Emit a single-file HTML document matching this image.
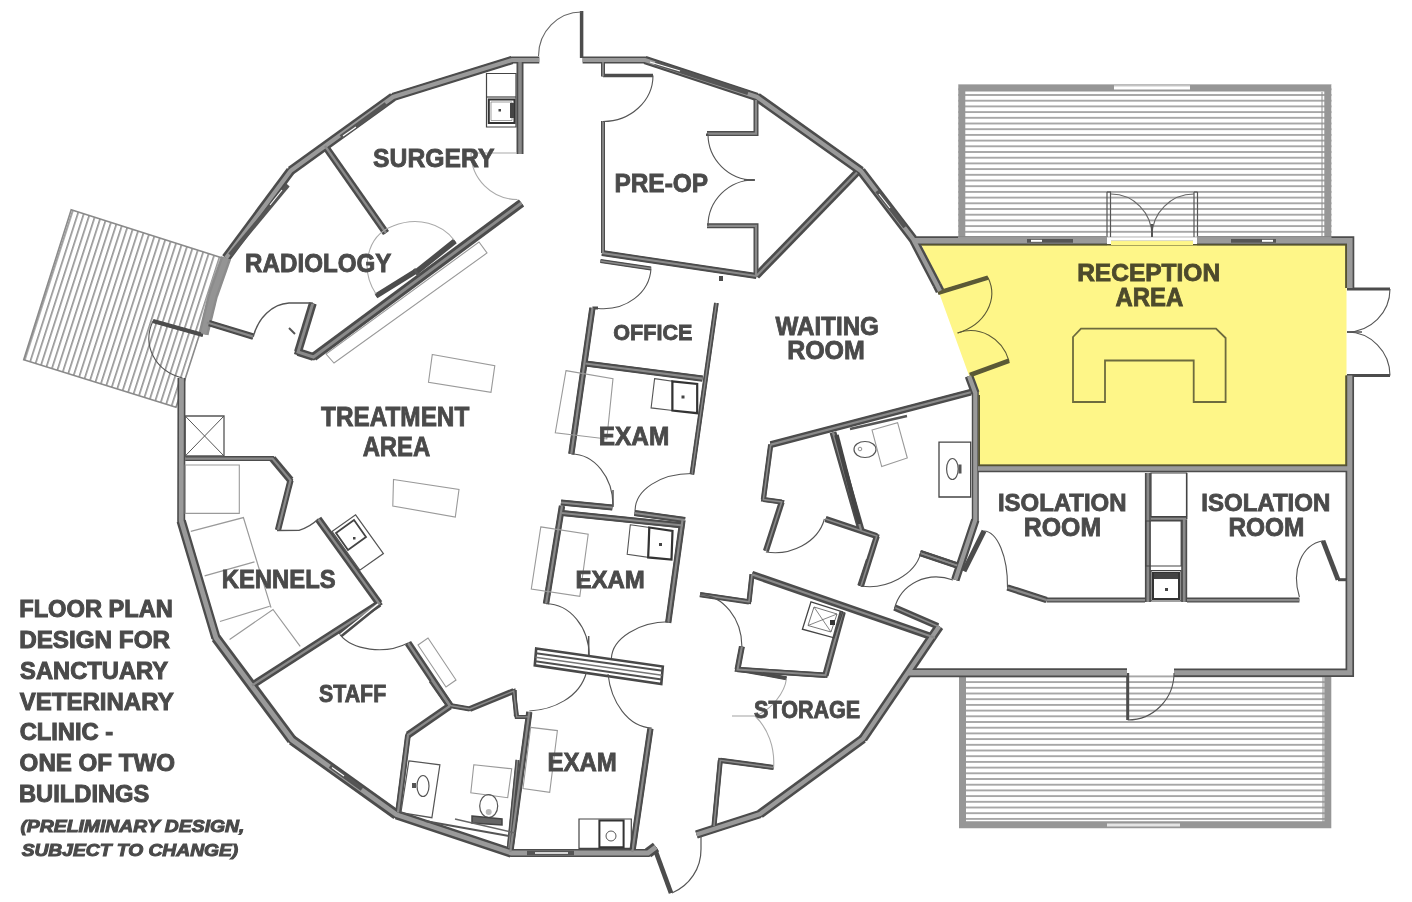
<!DOCTYPE html>
<html><head><meta charset="utf-8"><style>
html,body{margin:0;padding:0;background:#fff;width:1412px;height:902px;overflow:hidden}
svg{display:block;will-change:transform}
</style></head><body>
<svg width="1412" height="902" viewBox="0 0 1412 902">
<defs>
<pattern id="hh" patternUnits="userSpaceOnUse" width="20" height="5.7"><rect x="0" y="3.1" width="20" height="1.4" fill="#888"/></pattern>
<pattern id="hd" patternUnits="userSpaceOnUse" width="5.7" height="20" patternTransform="rotate(17.85)"><rect x="2" y="0" width="1.5" height="20" fill="#8a8a8a"/></pattern>
</defs>
<polygon points="71.2,209.8 224,258.5 176,407.3 23.7,359.8" fill="url(#hd)" stroke="#8a8a8a" stroke-width="1.6"/><rect x="958.3" y="84.4" width="373.2" height="153" fill="url(#hh)"/><path d="M961.8,237 V88 H1327.8 V237" fill="none" stroke="#969696" stroke-width="7"/><line x1="1114" y1="87.5" x2="1190" y2="87.5" stroke="#fff" stroke-width="4"/><line x1="1114" y1="86" x2="1190" y2="86" stroke="#bbb" stroke-width="0.8"/><line x1="1322" y1="92" x2="1322" y2="236" stroke="#8e8e8e" stroke-width="1"/><rect x="959" y="672" width="372" height="156.3" fill="url(#hh)"/><path d="M962.5,673 V824.8 H1327.8 V673" fill="none" stroke="#969696" stroke-width="7"/><line x1="1107" y1="825" x2="1180" y2="825" stroke="#e4e4e4" stroke-width="3"/><line x1="1323" y1="676" x2="1323" y2="822" stroke="#8e8e8e" stroke-width="1"/><polygon points="921.5,244.5 1346.5,244.5 1346.5,465 978,465 978,396 969,375.5 939.5,294 937,285" fill="#fef688"/>
<g fill="none" stroke-linejoin="miter" stroke-linecap="butt"><polyline points="539.3,60 512,60 393,97 290.7,170.7 226,258" stroke="#4c4c4c" stroke-width="7"/><line x1="512" y1="60" x2="393" y2="97" stroke="#4c4c4c" stroke-width="8.51"/><line x1="393" y1="97" x2="290.7" y2="170.7" stroke="#4c4c4c" stroke-width="9.38"/><line x1="290.7" y1="170.7" x2="226" y2="258" stroke="#4c4c4c" stroke-width="9.39"/><polyline points="226,258 213,295 203.5,334" stroke="#8c8c8c" stroke-width="9"/><line x1="226" y1="258" x2="213" y2="295" stroke="#8c8c8c" stroke-width="10.65"/><line x1="213" y1="295" x2="203.5" y2="334" stroke="#8c8c8c" stroke-width="10.25"/><polyline points="181.5,378 181.2,521 216,638 292,740 396.5,814.7 511.3,853 648,853 656,847" stroke="#4c4c4c" stroke-width="8"/><line x1="181.2" y1="521" x2="216" y2="638" stroke="#4c4c4c" stroke-width="9.46"/><line x1="216" y1="638" x2="292" y2="740" stroke="#4c4c4c" stroke-width="10.40"/><line x1="292" y1="740" x2="396.5" y2="814.7" stroke="#4c4c4c" stroke-width="10.37"/><line x1="396.5" y1="814.7" x2="511.3" y2="853" stroke="#4c4c4c" stroke-width="9.59"/><line x1="648" y1="853" x2="656" y2="847" stroke="#4c4c4c" stroke-width="10.40"/><polyline points="696.5,834.5 760,814 863,738.7 939.3,626.3" stroke="#4c4c4c" stroke-width="7"/><line x1="696.5" y1="834.5" x2="760" y2="814" stroke="#4c4c4c" stroke-width="8.55"/><line x1="760" y1="814" x2="863" y2="738.7" stroke="#4c4c4c" stroke-width="9.38"/><line x1="863" y1="738.7" x2="939.3" y2="626.3" stroke="#4c4c4c" stroke-width="9.33"/><polyline points="955.3,579.8 975.3,520 975.3,393 969,376" stroke="#4c4c4c" stroke-width="7"/><line x1="955.3" y1="579.8" x2="975.3" y2="520" stroke="#4c4c4c" stroke-width="8.59"/><line x1="975.3" y1="393" x2="969" y2="376" stroke="#4c4c4c" stroke-width="8.71"/><polyline points="940,291 937,285 913,239 861,171 757,97 645,60 582.6,60" stroke="#4c4c4c" stroke-width="7"/><line x1="940" y1="291" x2="937" y2="285" stroke="#4c4c4c" stroke-width="9.05"/><line x1="937" y1="285" x2="913" y2="239" stroke="#4c4c4c" stroke-width="9.09"/><line x1="913" y1="239" x2="861" y2="171" stroke="#4c4c4c" stroke-width="9.41"/><line x1="861" y1="171" x2="757" y2="97" stroke="#4c4c4c" stroke-width="9.37"/><line x1="757" y1="97" x2="645" y2="60" stroke="#4c4c4c" stroke-width="8.58"/><polyline points="913,240.8 1107,240.8" stroke="#4c4c4c" stroke-width="9"/><polyline points="1197,240.8 1349.8,240.8 1349.8,288" stroke="#4c4c4c" stroke-width="9"/><polyline points="1349.8,375.6 1349.8,672.7 1174,672.7" stroke="#4c4c4c" stroke-width="8.5"/><polyline points="978,468.5 1349.5,468.5" stroke="#4c4c4c" stroke-width="7.5"/><polyline points="1127,672.7 908,672.7" stroke="#4c4c4c" stroke-width="9"/><polyline points="581.6,11 581.6,58" stroke="#4c4c4c" stroke-width="3.5"/><polyline points="153,321 203,335" stroke="#4c4c4c" stroke-width="3"/><line x1="153" y1="321" x2="203" y2="335" stroke="#4c4c4c" stroke-width="4.40"/><polyline points="654.5,848 671,893" stroke="#4c4c4c" stroke-width="3"/><line x1="654.5" y1="848" x2="671" y2="893" stroke="#4c4c4c" stroke-width="4.70"/><polyline points="938,292.8 988,277.6" stroke="#5b5936" stroke-width="3"/><line x1="938" y1="292.8" x2="988" y2="277.6" stroke="#5b5936" stroke-width="4.49"/><polyline points="970,375 1009,360.8" stroke="#5b5936" stroke-width="3"/><line x1="970" y1="375" x2="1009" y2="360.8" stroke="#5b5936" stroke-width="4.69"/><polyline points="1347,289 1390,289" stroke="#4c4c4c" stroke-width="3"/><polyline points="1347,375.6 1390,375.6" stroke="#4c4c4c" stroke-width="3"/><polyline points="1127.7,673 1127.7,720" stroke="#4c4c4c" stroke-width="3"/><polyline points="325,146 386,233" stroke="#4c4c4c" stroke-width="5"/><line x1="325" y1="146" x2="386" y2="233" stroke="#4c4c4c" stroke-width="7.36"/><polyline points="520,62 520,154" stroke="#4c4c4c" stroke-width="7"/><polyline points="521.5,203 313.5,357 298,352 312.8,303.4" stroke="#4c4c4c" stroke-width="6.5"/><line x1="521.5" y1="203" x2="313.5" y2="357" stroke="#4c4c4c" stroke-width="8.89"/><line x1="313.5" y1="357" x2="298" y2="352" stroke="#4c4c4c" stroke-width="8.05"/><line x1="298" y1="352" x2="312.8" y2="303.4" stroke="#4c4c4c" stroke-width="7.99"/><polyline points="207,322.5 253.3,336.7" stroke="#4c4c4c" stroke-width="5"/><line x1="207" y1="322.5" x2="253.3" y2="336.7" stroke="#4c4c4c" stroke-width="6.50"/><polyline points="376,296 417,270.5" stroke="#4c4c4c" stroke-width="3.2"/><line x1="376" y1="296" x2="417" y2="270.5" stroke="#4c4c4c" stroke-width="5.46"/><polyline points="415,273 455,241" stroke="#4c4c4c" stroke-width="3.2"/><line x1="415" y1="273" x2="455" y2="241" stroke="#4c4c4c" stroke-width="5.63"/><polyline points="603,62 603,76.5" stroke="#4c4c4c" stroke-width="4"/><polyline points="603,75.5 653,75.5" stroke="#4c4c4c" stroke-width="3.5"/><polyline points="603,121 603,253" stroke="#4c4c4c" stroke-width="4"/><polyline points="602,253 756.4,276" stroke="#4c4c4c" stroke-width="5"/><line x1="602" y1="253" x2="756.4" y2="276" stroke="#4c4c4c" stroke-width="5.82"/><polyline points="756,100 756,133.5 707,133.5" stroke="#4c4c4c" stroke-width="5"/><polyline points="707,225.8 756,225.8 756,276" stroke="#4c4c4c" stroke-width="5"/><polyline points="756.4,276 857,172.5" stroke="#4c4c4c" stroke-width="5"/><line x1="756.4" y1="276" x2="857" y2="172.5" stroke="#4c4c4c" stroke-width="7.48"/><polyline points="721,276 721,281" stroke="#4c4c4c" stroke-width="4"/><polyline points="600.5,261 651,268.5" stroke="#4c4c4c" stroke-width="3"/><line x1="600.5" y1="261" x2="651" y2="268.5" stroke="#4c4c4c" stroke-width="3.82"/><polyline points="592.4,308 571.3,454" stroke="#4c4c4c" stroke-width="5.5"/><line x1="592.4" y1="308" x2="571.3" y2="454" stroke="#4c4c4c" stroke-width="6.30"/><polyline points="592.4,308 598,308" stroke="#4c4c4c" stroke-width="3"/><polyline points="716.4,303 691.9,474.4" stroke="#4c4c4c" stroke-width="4"/><line x1="716.4" y1="303" x2="691.9" y2="474.4" stroke="#4c4c4c" stroke-width="4.79"/><polyline points="585.5,363.5 702.5,378.6" stroke="#4c4c4c" stroke-width="5.5"/><line x1="585.5" y1="363.5" x2="702.5" y2="378.6" stroke="#4c4c4c" stroke-width="6.22"/><polyline points="561,502.5 612.4,507.5" stroke="#4c4c4c" stroke-width="5.5"/><line x1="561" y1="502.5" x2="612.4" y2="507.5" stroke="#4c4c4c" stroke-width="6.05"/><polyline points="634.5,513 685,520" stroke="#4c4c4c" stroke-width="5.5"/><line x1="634.5" y1="513" x2="685" y2="520" stroke="#4c4c4c" stroke-width="6.27"/><polyline points="562,513 683,525.5" stroke="#4c4c4c" stroke-width="5.5"/><line x1="562" y1="513" x2="683" y2="525.5" stroke="#4c4c4c" stroke-width="6.08"/><polyline points="562,506 546,603.8" stroke="#4c4c4c" stroke-width="5.5"/><line x1="562" y1="506" x2="546" y2="603.8" stroke="#4c4c4c" stroke-width="6.39"/><polyline points="682.5,520 668.2,622.7" stroke="#4c4c4c" stroke-width="5.5"/><line x1="682.5" y1="520" x2="668.2" y2="622.7" stroke="#4c4c4c" stroke-width="6.27"/><polyline points="529.3,712 510.3,852" stroke="#4c4c4c" stroke-width="5.5"/><line x1="529.3" y1="712" x2="510.3" y2="852" stroke="#4c4c4c" stroke-width="6.25"/><polyline points="650.4,728.6 632.3,852" stroke="#4c4c4c" stroke-width="5.5"/><line x1="650.4" y1="728.6" x2="632.3" y2="852" stroke="#4c4c4c" stroke-width="6.31"/><polyline points="431.9,680 449.8,705.5" stroke="#4c4c4c" stroke-width="5"/><line x1="431.9" y1="680" x2="449.8" y2="705.5" stroke="#4c4c4c" stroke-width="7.36"/><polyline points="449.8,705.5 469.8,709 513.7,691 516.7,716.9 529,716.9" stroke="#4c4c4c" stroke-width="4"/><line x1="449.8" y1="705.5" x2="469.8" y2="709" stroke="#4c4c4c" stroke-width="4.94"/><line x1="469.8" y1="709" x2="513.7" y2="691" stroke="#4c4c4c" stroke-width="5.83"/><line x1="513.7" y1="691" x2="516.7" y2="716.9" stroke="#4c4c4c" stroke-width="4.65"/><polyline points="449.8,706 408,734.9 398,812.5" stroke="#4c4c4c" stroke-width="5"/><line x1="449.8" y1="706" x2="408" y2="734.9" stroke="#4c4c4c" stroke-width="7.35"/><line x1="408" y1="734.9" x2="398" y2="812.5" stroke="#4c4c4c" stroke-width="5.72"/><polyline points="515.3,716 515.3,690" stroke="#4c4c4c" stroke-width="3"/><polyline points="185.2,458.6 272.5,458.6 290.5,480.2 278,530" stroke="#4c4c4c" stroke-width="5"/><line x1="272.5" y1="458.6" x2="290.5" y2="480.2" stroke="#4c4c4c" stroke-width="7.45"/><line x1="290.5" y1="480.2" x2="278" y2="530" stroke="#4c4c4c" stroke-width="6.28"/><polyline points="318.2,519 379.2,603.5 252,685.5" stroke="#4c4c4c" stroke-width="5"/><line x1="318.2" y1="519" x2="379.2" y2="603.5" stroke="#4c4c4c" stroke-width="7.38"/><line x1="379.2" y1="603.5" x2="252" y2="685.5" stroke="#4c4c4c" stroke-width="7.29"/><polyline points="340,634.7 378,604" stroke="#4c4c4c" stroke-width="4"/><line x1="340" y1="634.7" x2="378" y2="604" stroke="#4c4c4c" stroke-width="6.44"/><polyline points="408,643 449.8,705.5" stroke="#4c4c4c" stroke-width="5"/><line x1="408" y1="643" x2="449.8" y2="705.5" stroke="#4c4c4c" stroke-width="7.32"/><polyline points="770.7,444.6 970.7,392.2" stroke="#4c4c4c" stroke-width="5.5"/><line x1="770.7" y1="444.6" x2="970.7" y2="392.2" stroke="#4c4c4c" stroke-width="6.82"/><polyline points="770.7,444.6 763.4,499.5 781.7,502 765.9,551" stroke="#4c4c4c" stroke-width="4.5"/><line x1="770.7" y1="444.6" x2="763.4" y2="499.5" stroke="#4c4c4c" stroke-width="5.24"/><line x1="763.4" y1="499.5" x2="781.7" y2="502" stroke="#4c4c4c" stroke-width="5.26"/><line x1="781.7" y1="502" x2="765.9" y2="551" stroke="#4c4c4c" stroke-width="6.05"/><polyline points="825.6,519 876.8,536.1 861,586" stroke="#4c4c4c" stroke-width="4.5"/><line x1="825.6" y1="519" x2="876.8" y2="536.1" stroke="#4c4c4c" stroke-width="6.09"/><line x1="876.8" y1="536.1" x2="861" y2="586" stroke="#4c4c4c" stroke-width="6.03"/><polyline points="920.7,553.2 957.3,565.4" stroke="#4c4c4c" stroke-width="4.5"/><line x1="920.7" y1="553.2" x2="957.3" y2="565.4" stroke="#4c4c4c" stroke-width="6.09"/><polyline points="833,432.4 861,530" stroke="#4c4c4c" stroke-width="5.5"/><line x1="833" y1="432.4" x2="861" y2="530" stroke="#4c4c4c" stroke-width="6.92"/><polyline points="752,574.4 935,637.8" stroke="#4c4c4c" stroke-width="5.5"/><line x1="752" y1="574.4" x2="935" y2="637.8" stroke="#4c4c4c" stroke-width="7.13"/><polyline points="752,574.4 749,601.8 700,594.6" stroke="#4c4c4c" stroke-width="4.5"/><line x1="752" y1="574.4" x2="749" y2="601.8" stroke="#4c4c4c" stroke-width="5.12"/><line x1="749" y1="601.8" x2="700" y2="594.6" stroke="#4c4c4c" stroke-width="5.31"/><polyline points="741.9,646.5 737.5,669.5 825.4,675.3 842.7,611.9" stroke="#4c4c4c" stroke-width="5"/><line x1="741.9" y1="646.5" x2="737.5" y2="669.5" stroke="#4c4c4c" stroke-width="6.02"/><line x1="737.5" y1="669.5" x2="825.4" y2="675.3" stroke="#4c4c4c" stroke-width="5.38"/><line x1="825.4" y1="675.3" x2="842.7" y2="611.9" stroke="#4c4c4c" stroke-width="6.37"/><polyline points="737.5,669.5 786.5,678.2" stroke="#4c4c4c" stroke-width="3"/><line x1="737.5" y1="669.5" x2="786.5" y2="678.2" stroke="#4c4c4c" stroke-width="3.96"/><polyline points="773.6,767.5 720.3,760.3 714,826" stroke="#4c4c4c" stroke-width="4.5"/><line x1="773.6" y1="767.5" x2="720.3" y2="760.3" stroke="#4c4c4c" stroke-width="5.25"/><line x1="720.3" y1="760.3" x2="714" y2="826" stroke="#4c4c4c" stroke-width="5.05"/><polyline points="894.6,607.5 937.8,626.3" stroke="#4c4c4c" stroke-width="4.5"/><line x1="894.6" y1="607.5" x2="937.8" y2="626.3" stroke="#4c4c4c" stroke-width="6.40"/><polyline points="868.7,560 860,586" stroke="#4c4c4c" stroke-width="4"/><line x1="868.7" y1="560" x2="860" y2="586" stroke="#4c4c4c" stroke-width="5.59"/><polyline points="920,553 957,565.5" stroke="#4c4c4c" stroke-width="4.5"/><line x1="920" y1="553" x2="957" y2="565.5" stroke="#4c4c4c" stroke-width="6.10"/><polyline points="1147.9,473 1147.9,602" stroke="#4c4c4c" stroke-width="6"/><polyline points="1184.2,519 1184.2,602" stroke="#4c4c4c" stroke-width="6"/><polyline points="1151,518.8 1187,518.8" stroke="#4c4c4c" stroke-width="4.5"/><polyline points="1046.5,600 1145,600" stroke="#4c4c4c" stroke-width="5"/><polyline points="1046.5,600 1007.5,587.5" stroke="#4c4c4c" stroke-width="5"/><line x1="1046.5" y1="600" x2="1007.5" y2="587.5" stroke="#4c4c4c" stroke-width="6.55"/><polyline points="964,571 984,531" stroke="#4c4c4c" stroke-width="3"/><line x1="964" y1="571" x2="984" y2="531" stroke="#4c4c4c" stroke-width="5.05"/><polyline points="1187,600 1299.4,600" stroke="#4c4c4c" stroke-width="5"/><polyline points="1323,540.8 1338,579.7" stroke="#4c4c4c" stroke-width="3"/><line x1="1323" y1="540.8" x2="1338" y2="579.7" stroke="#4c4c4c" stroke-width="4.76"/><polyline points="1338,579.7 1347,579.7" stroke="#4c4c4c" stroke-width="3"/><polyline points="517.5,760 508.8,848" stroke="#4c4c4c" stroke-width="3.5"/><line x1="517.5" y1="760" x2="508.8" y2="848" stroke="#4c4c4c" stroke-width="4.06"/><polyline points="539.3,60 512,60 393,97 290.7,170.7 226,258" stroke="#9a9a9a" stroke-width="4.20"/><polyline points="226,258 213,295 203.5,334" stroke="#949494" stroke-width="5.40"/><polyline points="181.5,378 181.2,521 216,638 292,740 396.5,814.7 511.3,853 648,853 656,847" stroke="#9a9a9a" stroke-width="4.80"/><polyline points="696.5,834.5 760,814 863,738.7 939.3,626.3" stroke="#9a9a9a" stroke-width="4.20"/><polyline points="955.3,579.8 975.3,520 975.3,393 969,376" stroke="#9a9a9a" stroke-width="4.20"/><polyline points="940,291 937,285 913,239 861,171 757,97 645,60 582.6,60" stroke="#9a9a9a" stroke-width="4.20"/><polyline points="913,240.8 1107,240.8" stroke="#9a9a9a" stroke-width="5.58"/><polyline points="1197,240.8 1349.8,240.8 1349.8,288" stroke="#9a9a9a" stroke-width="5.58"/><polyline points="1349.8,375.6 1349.8,672.7 1174,672.7" stroke="#9a9a9a" stroke-width="5.10"/><polyline points="978,468.5 1349.5,468.5" stroke="#9a9a9a" stroke-width="4.50"/><polyline points="1127,672.7 908,672.7" stroke="#9a9a9a" stroke-width="5.40"/><polyline points="325,146 386,233" stroke="#8a8a8a" stroke-width="2.25"/><polyline points="520,62 520,154" stroke="#8a8a8a" stroke-width="3.50"/><polyline points="521.5,203 313.5,357 298,352 312.8,303.4" stroke="#8a8a8a" stroke-width="2.93"/><polyline points="207,322.5 253.3,336.7" stroke="#8a8a8a" stroke-width="2.25"/><polyline points="603,62 603,76.5" stroke="#8a8a8a" stroke-width="1.80"/><polyline points="603,121 603,253" stroke="#8a8a8a" stroke-width="1.80"/><polyline points="602,253 756.4,276" stroke="#8a8a8a" stroke-width="2.25"/><polyline points="756,100 756,133.5 707,133.5" stroke="#8a8a8a" stroke-width="2.25"/><polyline points="707,225.8 756,225.8 756,276" stroke="#8a8a8a" stroke-width="2.25"/><polyline points="756.4,276 857,172.5" stroke="#8a8a8a" stroke-width="2.25"/><polyline points="600.5,261 651,268.5" stroke="#8a8a8a" stroke-width="1.35"/><polyline points="592.4,308 571.3,454" stroke="#8a8a8a" stroke-width="2.20"/><polyline points="716.4,303 691.9,474.4" stroke="#8a8a8a" stroke-width="1.40"/><polyline points="585.5,363.5 702.5,378.6" stroke="#8a8a8a" stroke-width="2.20"/><polyline points="561,502.5 612.4,507.5" stroke="#8a8a8a" stroke-width="2.20"/><polyline points="634.5,513 685,520" stroke="#8a8a8a" stroke-width="2.20"/><polyline points="562,513 683,525.5" stroke="#8a8a8a" stroke-width="2.20"/><polyline points="562,506 546,603.8" stroke="#8a8a8a" stroke-width="2.20"/><polyline points="682.5,520 668.2,622.7" stroke="#8a8a8a" stroke-width="2.20"/><polyline points="529.3,712 510.3,852" stroke="#8a8a8a" stroke-width="2.20"/><polyline points="650.4,728.6 632.3,852" stroke="#8a8a8a" stroke-width="2.20"/><polyline points="431.9,680 449.8,705.5" stroke="#8a8a8a" stroke-width="2.25"/><polyline points="449.8,705.5 469.8,709 513.7,691 516.7,716.9 529,716.9" stroke="#8a8a8a" stroke-width="1.40"/><polyline points="449.8,706 408,734.9 398,812.5" stroke="#8a8a8a" stroke-width="2.25"/><polyline points="185.2,458.6 272.5,458.6 290.5,480.2 278,530" stroke="#8a8a8a" stroke-width="2.25"/><polyline points="318.2,519 379.2,603.5 252,685.5" stroke="#8a8a8a" stroke-width="2.25"/><polyline points="340,634.7 378,604" stroke="#fff" stroke-width="1.40"/><polyline points="408,643 449.8,705.5" stroke="#8a8a8a" stroke-width="2.25"/><polyline points="770.7,444.6 970.7,392.2" stroke="#8a8a8a" stroke-width="2.20"/><polyline points="770.7,444.6 763.4,499.5 781.7,502 765.9,551" stroke="#8a8a8a" stroke-width="1.57"/><polyline points="825.6,519 876.8,536.1 861,586" stroke="#8a8a8a" stroke-width="1.57"/><polyline points="920.7,553.2 957.3,565.4" stroke="#8a8a8a" stroke-width="1.57"/><polyline points="833,432.4 861,530" stroke="#8a8a8a" stroke-width="2.20"/><polyline points="752,574.4 935,637.8" stroke="#8a8a8a" stroke-width="2.20"/><polyline points="752,574.4 749,601.8 700,594.6" stroke="#8a8a8a" stroke-width="1.57"/><polyline points="741.9,646.5 737.5,669.5 825.4,675.3 842.7,611.9" stroke="#8a8a8a" stroke-width="2.00"/><polyline points="773.6,767.5 720.3,760.3 714,826" stroke="#8a8a8a" stroke-width="1.57"/><polyline points="894.6,607.5 937.8,626.3" stroke="#8a8a8a" stroke-width="1.57"/><polyline points="920,553 957,565.5" stroke="#8a8a8a" stroke-width="1.57"/><polyline points="1147.9,473 1147.9,602" stroke="#8a8a8a" stroke-width="2.70"/><polyline points="1184.2,519 1184.2,602" stroke="#8a8a8a" stroke-width="2.70"/><polyline points="1151,518.8 1187,518.8" stroke="#8a8a8a" stroke-width="2.02"/><polyline points="1046.5,600 1145,600" stroke="#8a8a8a" stroke-width="2.25"/><polyline points="1046.5,600 1007.5,587.5" stroke="#8a8a8a" stroke-width="2.25"/><polyline points="1187,600 1299.4,600" stroke="#8a8a8a" stroke-width="2.25"/><polyline points="517.5,760 508.8,848" stroke="#8a8a8a" stroke-width="1.22"/></g>
<line x1="655" y1="63" x2="748" y2="93" stroke="#555" stroke-width="4.34"/><line x1="650" y1="62" x2="680" y2="71" stroke="#fff" stroke-width="1.2"/><line x1="341" y1="137" x2="386" y2="104" stroke="#555" stroke-width="4.34"/><line x1="343" y1="136" x2="356" y2="127" stroke="#fff" stroke-width="1.2"/><line x1="230" y1="255" x2="288" y2="185" stroke="#555" stroke-width="4.34"/><line x1="270" y1="205" x2="282" y2="190" stroke="#fff" stroke-width="1.2"/><line x1="1027" y1="240.8" x2="1073" y2="240.8" stroke="#555" stroke-width="3.72"/><line x1="1031" y1="240.8" x2="1042" y2="240.8" stroke="#fff" stroke-width="2"/><line x1="1231" y1="240.8" x2="1276" y2="240.8" stroke="#555" stroke-width="3.72"/><line x1="1262" y1="240.8" x2="1273" y2="240.8" stroke="#fff" stroke-width="2"/><line x1="877" y1="191" x2="905" y2="227" stroke="#555" stroke-width="4.34"/><line x1="879" y1="194" x2="890" y2="208" stroke="#fff" stroke-width="1.2"/><line x1="527" y1="853" x2="574" y2="853" stroke="#555" stroke-width="4.34"/><line x1="535" y1="853" x2="568" y2="853" stroke="#fff" stroke-width="1.5"/><line x1="330" y1="766" x2="362" y2="789" stroke="#555" stroke-width="4.34"/><line x1="332" y1="767.5" x2="344" y2="776" stroke="#fff" stroke-width="1.2"/><path d="M538.5,56 C538.5,31.7 557.8,12.0 581.6,12" fill="none" stroke="#666" stroke-width="1.1"/><path d="M153,321 C141.7,345.3 154.9,370.8 182.5,378" fill="none" stroke="#555" stroke-width="1.1"/><path d="M672,893 A47,47 0 0 0 701,849 L701,836" fill="none" stroke="#555" stroke-width="1.2"/><path d="M988,277.6 C998.8,299.8 985.2,324.6 957.6,333" fill="none" stroke="#5b5936" stroke-width="1.1"/><path d="M1009,360.8 C1002.2,337.6 979.1,325.2 957.6,333" fill="none" stroke="#5b5936" stroke-width="1.1"/><path d="M1390,289 C1390.0,312.7 1370.7,332.0 1347,332" fill="none" stroke="#555" stroke-width="1.1"/><path d="M1390,375.6 C1390.0,351.5 1370.7,332.0 1347,332" fill="none" stroke="#555" stroke-width="1.1"/><polyline points="1347,332 1362,332" fill="none" stroke="#555" stroke-width="1.5" /><polyline points="1107,192 1107,237" fill="none" stroke="#555" stroke-width="1.2" /><polyline points="1110.5,192 1110.5,237" fill="none" stroke="#555" stroke-width="1.2" /><polyline points="1194,192 1194,237" fill="none" stroke="#555" stroke-width="1.2" /><polyline points="1197.5,192 1197.5,237" fill="none" stroke="#555" stroke-width="1.2" /><polyline points="1107,192 1111,192" fill="none" stroke="#555" stroke-width="1.2" /><polyline points="1194,192 1197.5,192" fill="none" stroke="#555" stroke-width="1.2" /><path d="M1111,194 C1133.6,194.0 1152.0,212.8 1152,236" fill="none" stroke="#666" stroke-width="1.1"/><path d="M1194,194 C1170.8,194.0 1152.0,212.8 1152,236" fill="none" stroke="#666" stroke-width="1.1"/><polyline points="1152,224 1152,237" fill="none" stroke="#555" stroke-width="2" /><path d="M1127.7,720 C1153.3,720.0 1174.0,699.0 1174,673" fill="none" stroke="#555" stroke-width="1.1"/><path d="M253.3,336.7 C258,318 272,304 289,303 L312.8,303" fill="none" stroke="#555" stroke-width="1.4"/><polyline points="289,328 295,334" fill="none" stroke="#555" stroke-width="2" /><polyline points="414,269 419,276" fill="none" stroke="#555" stroke-width="2.5" /><path d="M376,294 C360,270 366,236 393,226 C418,216 442,224 454,240" fill="none" stroke="#aaa" stroke-width="1.1"/><polygon points="326,354 334,363 487,253 479,242" fill="none" stroke="#9a9a9a" stroke-width="1.1"/><polyline points="471,153 517,153" fill="none" stroke="#aaa" stroke-width="1.1" /><path d="M471,153 C471.0,178.7 491.8,199.5 517.5,199.5" fill="none" stroke="#aaa" stroke-width="1.1"/><polygon points="486.5,73.5 516,73.5 516,127 486.5,127" fill="none" stroke="#444" stroke-width="1.2"/><polyline points="486.5,97 516,97" fill="none" stroke="#444" stroke-width="1.2" /><polygon points="488.8,99.5 514.5,99.5 514.5,123 488.8,123" fill="none" stroke="#333" stroke-width="2"/><polygon points="491,102 512,102 512,120.5 491,120.5" fill="none" stroke="#888" stroke-width="0.8"/><rect x="498.5" y="109" width="2.5" height="2.5" fill="#444"/><rect x="510" y="103" width="4" height="15" fill="#444"/><path d="M653,75.5 C653.0,100.9 630.6,121.5 603,121.5" fill="none" stroke="#555" stroke-width="1.1"/><polyline points="707,133.5 707,136" fill="none" stroke="#4c4c4c" stroke-width="2" /><path d="M708,134 C708.0,159.4 728.6,180.0 754,180" fill="none" stroke="#555" stroke-width="1.1"/><path d="M708,226 C708.0,200.6 728.6,180.0 754,180" fill="none" stroke="#555" stroke-width="1.1"/><polyline points="744,180 755,180" fill="none" stroke="#555" stroke-width="1.8" /><path d="M651,268.5 C649.6,293.1 625.9,311.0 598,308.5" fill="none" stroke="#555" stroke-width="1.1"/><polygon points="566,370.6 613,378.6 606.8,439 555.3,432.7" fill="none" stroke="#9a9a9a" stroke-width="1.1"/><polygon points="654.6,378.6 672.4,381.3 672.4,410.5 651.1,407.9" fill="none" stroke="#555" stroke-width="1.1"/><polygon points="672.4,381.3 697.2,384 697.2,413.2 672.4,410.5" fill="none" stroke="#333" stroke-width="2.2"/><rect x="681.5" y="395.5" width="3" height="3" fill="#444"/><path d="M571.3,454 C594.3,454.0 613.0,477.0 613,505.4" fill="none" stroke="#555" stroke-width="1.1"/><polyline points="613,490 613,507" fill="none" stroke="#555" stroke-width="1.5" /><path d="M691.9,473.5 C660,473.5 635,490 635.1,510.8" fill="none" stroke="#555" stroke-width="1.1"/><polygon points="540.8,526.9 588.2,534.2 579.8,596.4 531.3,589" fill="none" stroke="#9a9a9a" stroke-width="1.1"/><polygon points="630.3,524.8 649.3,527.5 648.2,557.4 627.2,554.3" fill="none" stroke="#555" stroke-width="1.1"/><polygon points="649.3,527.5 672.5,531 671.5,559.5 648.2,557.4" fill="none" stroke="#333" stroke-width="2.2"/><rect x="659" y="543" width="3" height="3" fill="#444"/><path d="M546,603.8 C569.9,603.8 589.2,627.3 589.2,656.4" fill="none" stroke="#555" stroke-width="1.1"/><polyline points="588.7,636 588.7,657" fill="none" stroke="#555" stroke-width="1.5" /><path d="M668.2,621.7 C640,621.7 612,638 611.4,658.5" fill="none" stroke="#555" stroke-width="1.1"/><polygon points="536.2,648.5 662.8,666.5 661.3,684 534.8,665.3" fill="#fff" stroke="#484848" stroke-width="2.6"/><polyline points="536,653.3 662.5,670.8" fill="none" stroke="#505050" stroke-width="2" /><polyline points="535.5,657.3 662,675.2" fill="none" stroke="#777" stroke-width="1.6" /><polyline points="535.3,661.3 661.7,679.5" fill="none" stroke="#505050" stroke-width="2" /><path d="M529.3,711 C552,710 580,698 586.5,672" fill="none" stroke="#555" stroke-width="1.1"/><path d="M608,674 C611,702 628,727 651.7,728" fill="none" stroke="#555" stroke-width="1.1"/><polygon points="579,819 631.3,819 631.3,848.4 579,848.4" fill="none" stroke="#444" stroke-width="1.2"/><polygon points="599.4,820.4 623.6,820.4 623.6,847.2 599.4,847.2" fill="none" stroke="#333" stroke-width="2"/><circle cx="611" cy="836" r="5" fill="none" stroke="#555" stroke-width="1"/><polyline points="620,844 720,823" fill="none" stroke="none" stroke-width="1.2" /><polygon points="408.9,760.8 439.9,764.8 431.9,817.7 400.9,812.7" fill="none" stroke="#555" stroke-width="1.2"/><ellipse cx="423" cy="786" rx="6" ry="10.5" fill="none" stroke="#555" stroke-width="1.2"/><rect x="412" y="783" width="4" height="5" fill="#555"/><polygon points="473.8,764.8 511.7,768.8 507.7,797.7 470.8,792.8" fill="none" stroke="#9a9a9a" stroke-width="1.1"/><ellipse cx="488.7" cy="806" rx="9" ry="11.5" fill="none" stroke="#555" stroke-width="1.2"/><circle cx="488.7" cy="812" r="3" fill="#bbb"/><polygon points="472,816 502,819 502,825 472,823" fill="#666" stroke="#444" stroke-width="1.5"/><polyline points="455,819 515,833" fill="none" stroke="#666" stroke-width="1.5" /><path d="M277,530.5 L299,530.3 Q310,527 318.2,519" fill="none" stroke="#555" stroke-width="1.3"/><path d="M340,634.7 C352,650 385,655 408,643" fill="none" stroke="#555" stroke-width="1.1"/><polygon points="185.2,416 224,416 224,456 185.2,456" fill="none" stroke="#555" stroke-width="1.3"/><polyline points="185.2,416 224,456" fill="none" stroke="#555" stroke-width="1" /><polyline points="224,416 185.2,456" fill="none" stroke="#555" stroke-width="1" /><polygon points="185.2,465 239.3,465 239.3,513.4 185.2,513.4" fill="none" stroke="#9a9a9a" stroke-width="1.1"/><polyline points="190.8,531.4 243.4,517.6 271,607.6" fill="none" stroke="#9a9a9a" stroke-width="1.2" /><polyline points="204.6,575.8 254.5,561.9" fill="none" stroke="#9a9a9a" stroke-width="1.2" /><polyline points="219.9,621.5 269.7,606.3" fill="none" stroke="#9a9a9a" stroke-width="1.2" /><polyline points="229.6,639.5 273,609.5 300.2,646.4" fill="none" stroke="#9a9a9a" stroke-width="1.2" /><polygon points="332,531.4 355.6,514.8 383.4,553.6 359.8,570.2" fill="none" stroke="#555" stroke-width="1.2"/><polygon points="336,533 354,520 366,537 348,550" fill="none" stroke="#444" stroke-width="1.8"/><rect x="353" y="537" width="2.5" height="2.5" fill="#444"/><polygon points="418,645 428,638 456,680 446,687" fill="none" stroke="#9a9a9a" stroke-width="1.1"/><polygon points="432.3,354.5 494.8,365.7 491,392.3 428.5,382.3" fill="none" stroke="#9a9a9a" stroke-width="1.1"/><polygon points="393.5,479.5 459,489.5 455.3,517 392.8,506" fill="none" stroke="#9a9a9a" stroke-width="1.1"/><path d="M765.9,552 C790,556 818,543 824.4,519" fill="none" stroke="#555" stroke-width="1.1"/><path d="M861,586 C886,590 915,575 920.7,553.2" fill="none" stroke="#555" stroke-width="1.1"/><polyline points="836.5,435 859.5,524" fill="none" stroke="#444" stroke-width="4.5" /><polyline points="850,429 907,416" fill="none" stroke="#555" stroke-width="2.5" /><ellipse cx="865" cy="449.5" rx="11" ry="8" fill="none" stroke="#555" stroke-width="1.2"/><circle cx="860" cy="449" r="1.8" fill="none" stroke="#777" stroke-width="0.8"/><polygon points="872,430 897.6,422.7 907.3,458 881.7,466.6" fill="none" stroke="#9a9a9a" stroke-width="1.1"/><polygon points="939,442.2 970.7,442.2 970.7,497 939,497" fill="none" stroke="#444" stroke-width="1.3"/><ellipse cx="952.4" cy="469" rx="5.8" ry="10.5" fill="none" stroke="#555" stroke-width="1.2"/><rect x="958.5" y="464.5" width="3" height="9" fill="#555"/><path d="M700,594.6 C723.1,595.4 741.9,618.7 741.9,646.5" fill="none" stroke="#555" stroke-width="1.1"/><polygon points="811,601.8 842.7,611.9 834,637.8 802.4,629.2" fill="none" stroke="#444" stroke-width="1.3"/><polygon points="814,607 837,614 831,632 808,625.5" fill="none" stroke="#666" stroke-width="0.9"/><polyline points="814,607 831,632" fill="none" stroke="#666" stroke-width="0.8" /><polyline points="837,614 808,625.5" fill="none" stroke="#666" stroke-width="0.8" /><rect x="830" y="620" width="5" height="5" fill="#333"/><path d="M786.5,678.2 C785,692 772,710 755,716" fill="none" stroke="#aaa" stroke-width="1.1"/><polyline points="732,716 755,716" fill="none" stroke="#aaa" stroke-width="1.1" /><path d="M755,716 C768,728 775,748 773.6,767.5" fill="none" stroke="#aaa" stroke-width="1.1"/><polyline points="1186.8,473 1186.8,519" fill="none" stroke="#444" stroke-width="1.3" /><polygon points="1151,473 1186.5,473 1186.5,516.5 1151,516.5" fill="none" stroke="#444" stroke-width="1.2"/><polygon points="1145.7,521 1181.2,521 1181.2,566 1145.7,566" fill="none" stroke="#444" stroke-width="1.2"/><polygon points="1151,570.6 1181,570.6 1181,601 1151,601" fill="none" stroke="#444" stroke-width="1.2"/><polygon points="1153,573 1179,573 1179,599 1153,599" fill="none" stroke="#333" stroke-width="2"/><rect x="1154" y="573" width="24" height="6" fill="#444"/><rect x="1165" y="588" width="3" height="3" fill="#444"/><path d="M983.8,531 C997.3,531.3 1007.9,556.6 1007.5,587.5" fill="none" stroke="#555" stroke-width="1.1"/><path d="M1323,540.8 C1301.7,544.7 1291.1,569.8 1299.4,597" fill="none" stroke="#555" stroke-width="1.1"/><path d="M894.4,608.6 C901.0,583.6 927.3,570.8 953,580" fill="none" stroke="#555" stroke-width="1.1"/><polygon points="1073,402 1073,337 1081,328.6 1216,328.6 1225.6,338 1225.6,402 1193.7,402 1193.7,360.5 1105,360.5 1105,402" fill="none" stroke="#6d6b3e" stroke-width="1.8"/><polyline points="921,244.8 1346.2,244.8 1346.2,288" fill="none" stroke="#55532f" stroke-width="1.6" /><polyline points="1346.2,375.6 1346.2,465.2 979.2,465.2 979.2,395" fill="none" stroke="#55532f" stroke-width="1.6" /><polygon points="530.6,727.4 557.4,730.6 549.7,792.4 523,788.5" fill="none" stroke="#9a9a9a" stroke-width="1.1"/><polyline points="425,821 509,836" fill="none" stroke="#555" stroke-width="2" /><polyline points="958,237.2 1107,237.2" fill="none" stroke="#979797" stroke-width="2" /><polyline points="1197,237.2 1331.5,237.2" fill="none" stroke="#979797" stroke-width="2" /><rect x="1111" y="240.5" width="82" height="4.5" fill="#fef688"/><polyline points="1111,240.6 1193,240.6" fill="none" stroke="#cfcfcf" stroke-width="0.8" />
<g font-family="Liberation Sans, sans-serif" font-weight="bold" opacity="0.995"><text x="373.11" y="166.57" font-size="26.38" textLength="121.27" lengthAdjust="spacingAndGlyphs" fill="#4a4a4a" stroke="#4a4a4a" stroke-width="0.85" >SURGERY</text><text x="245.11" y="272.48" font-size="25.51" textLength="146.25" lengthAdjust="spacingAndGlyphs" fill="#4a4a4a" stroke="#4a4a4a" stroke-width="0.85" >RADIOLOGY</text><text x="614.39" y="191.87" font-size="25.65" textLength="93.82" lengthAdjust="spacingAndGlyphs" fill="#4a4a4a" stroke="#4a4a4a" stroke-width="0.85" >PRE-OP</text><text x="613.24" y="339.98" font-size="22.89" textLength="79.17" lengthAdjust="spacingAndGlyphs" fill="#4a4a4a" stroke="#4a4a4a" stroke-width="0.85" >OFFICE</text><text x="775.40" y="334.88" font-size="25.94" textLength="103.56" lengthAdjust="spacingAndGlyphs" fill="#4a4a4a" stroke="#4a4a4a" stroke-width="0.85" >WAITING</text><text x="787.15" y="359.48" font-size="25.94" textLength="77.69" lengthAdjust="spacingAndGlyphs" fill="#4a4a4a" stroke="#4a4a4a" stroke-width="0.85" >ROOM</text><text x="321.06" y="426.18" font-size="26.96" textLength="148.28" lengthAdjust="spacingAndGlyphs" fill="#4a4a4a" stroke="#4a4a4a" stroke-width="0.85" >TREATMENT</text><text x="362.63" y="455.78" font-size="28.12" textLength="67.68" lengthAdjust="spacingAndGlyphs" fill="#4a4a4a" stroke="#4a4a4a" stroke-width="0.85" >AREA</text><text x="598.79" y="445.18" font-size="26.09" textLength="70.53" lengthAdjust="spacingAndGlyphs" fill="#4a4a4a" stroke="#4a4a4a" stroke-width="0.85" >EXAM</text><text x="575.42" y="588.38" font-size="24.78" textLength="69.37" lengthAdjust="spacingAndGlyphs" fill="#4a4a4a" stroke="#4a4a4a" stroke-width="0.85" >EXAM</text><text x="547.42" y="770.98" font-size="26.53" textLength="69.37" lengthAdjust="spacingAndGlyphs" fill="#4a4a4a" stroke="#4a4a4a" stroke-width="0.85" >EXAM</text><text x="754.00" y="718.38" font-size="23.04" textLength="106.21" lengthAdjust="spacingAndGlyphs" fill="#4a4a4a" stroke="#4a4a4a" stroke-width="0.85" >STORAGE</text><text x="221.73" y="588.18" font-size="25.22" textLength="113.88" lengthAdjust="spacingAndGlyphs" fill="#4a4a4a" stroke="#4a4a4a" stroke-width="0.85" >KENNELS</text><text x="319.11" y="702.18" font-size="23.04" textLength="67.04" lengthAdjust="spacingAndGlyphs" fill="#4a4a4a" stroke="#4a4a4a" stroke-width="0.85" >STAFF</text><text x="1077.18" y="281.48" font-size="24.64" textLength="142.93" lengthAdjust="spacingAndGlyphs" fill="#4d4a2c" stroke="#4d4a2c" stroke-width="0.85" >RECEPTION</text><text x="1115.43" y="306.18" font-size="26.38" textLength="67.78" lengthAdjust="spacingAndGlyphs" fill="#4d4a2c" stroke="#4d4a2c" stroke-width="0.85" >AREA</text><text x="997.92" y="511.47" font-size="24.64" textLength="128.66" lengthAdjust="spacingAndGlyphs" fill="#4a4a4a" stroke="#4a4a4a" stroke-width="0.85" >ISOLATION</text><text x="1023.86" y="536.18" font-size="26.38" textLength="77.27" lengthAdjust="spacingAndGlyphs" fill="#4a4a4a" stroke="#4a4a4a" stroke-width="0.85" >ROOM</text><text x="1201.21" y="511.47" font-size="24.64" textLength="129.18" lengthAdjust="spacingAndGlyphs" fill="#4a4a4a" stroke="#4a4a4a" stroke-width="0.85" >ISOLATION</text><text x="1228.39" y="536.18" font-size="26.38" textLength="76.02" lengthAdjust="spacingAndGlyphs" fill="#4a4a4a" stroke="#4a4a4a" stroke-width="0.85" >ROOM</text><text x="19.22" y="617.30" font-size="23.69" textLength="153.68" lengthAdjust="spacingAndGlyphs" fill="#4a4a4a" stroke="#4a4a4a" stroke-width="1.0" >FLOOR PLAN</text><text x="19.18" y="647.90" font-size="23.69" textLength="150.82" lengthAdjust="spacingAndGlyphs" fill="#4a4a4a" stroke="#4a4a4a" stroke-width="1.0" >DESIGN FOR</text><text x="20.11" y="678.50" font-size="24.13" textLength="148.06" lengthAdjust="spacingAndGlyphs" fill="#4a4a4a" stroke="#4a4a4a" stroke-width="1.0" >SANCTUARY</text><text x="19.73" y="709.70" font-size="24.56" textLength="153.96" lengthAdjust="spacingAndGlyphs" fill="#4a4a4a" stroke="#4a4a4a" stroke-width="1.0" >VETERINARY</text><text x="19.63" y="740.10" font-size="24.27" textLength="93.62" lengthAdjust="spacingAndGlyphs" fill="#4a4a4a" stroke="#4a4a4a" stroke-width="1.0" >CLINIC -</text><text x="19.61" y="771.40" font-size="24.56" textLength="155.50" lengthAdjust="spacingAndGlyphs" fill="#4a4a4a" stroke="#4a4a4a" stroke-width="1.0" >ONE OF TWO</text><text x="19.01" y="801.90" font-size="24.71" textLength="130.31" lengthAdjust="spacingAndGlyphs" fill="#4a4a4a" stroke="#4a4a4a" stroke-width="1.0" >BUILDINGS</text><text x="20.40" y="832.10" font-size="17.30" textLength="224.06" lengthAdjust="spacingAndGlyphs" fill="#4a4a4a" stroke="#4a4a4a" stroke-width="1.0" font-style="italic">(PRELIMINARY DESIGN,</text><text x="21.67" y="855.80" font-size="17.15" textLength="216.59" lengthAdjust="spacingAndGlyphs" fill="#4a4a4a" stroke="#4a4a4a" stroke-width="1.0" font-style="italic">SUBJECT TO CHANGE)</text></g>

</svg>
</body></html>
